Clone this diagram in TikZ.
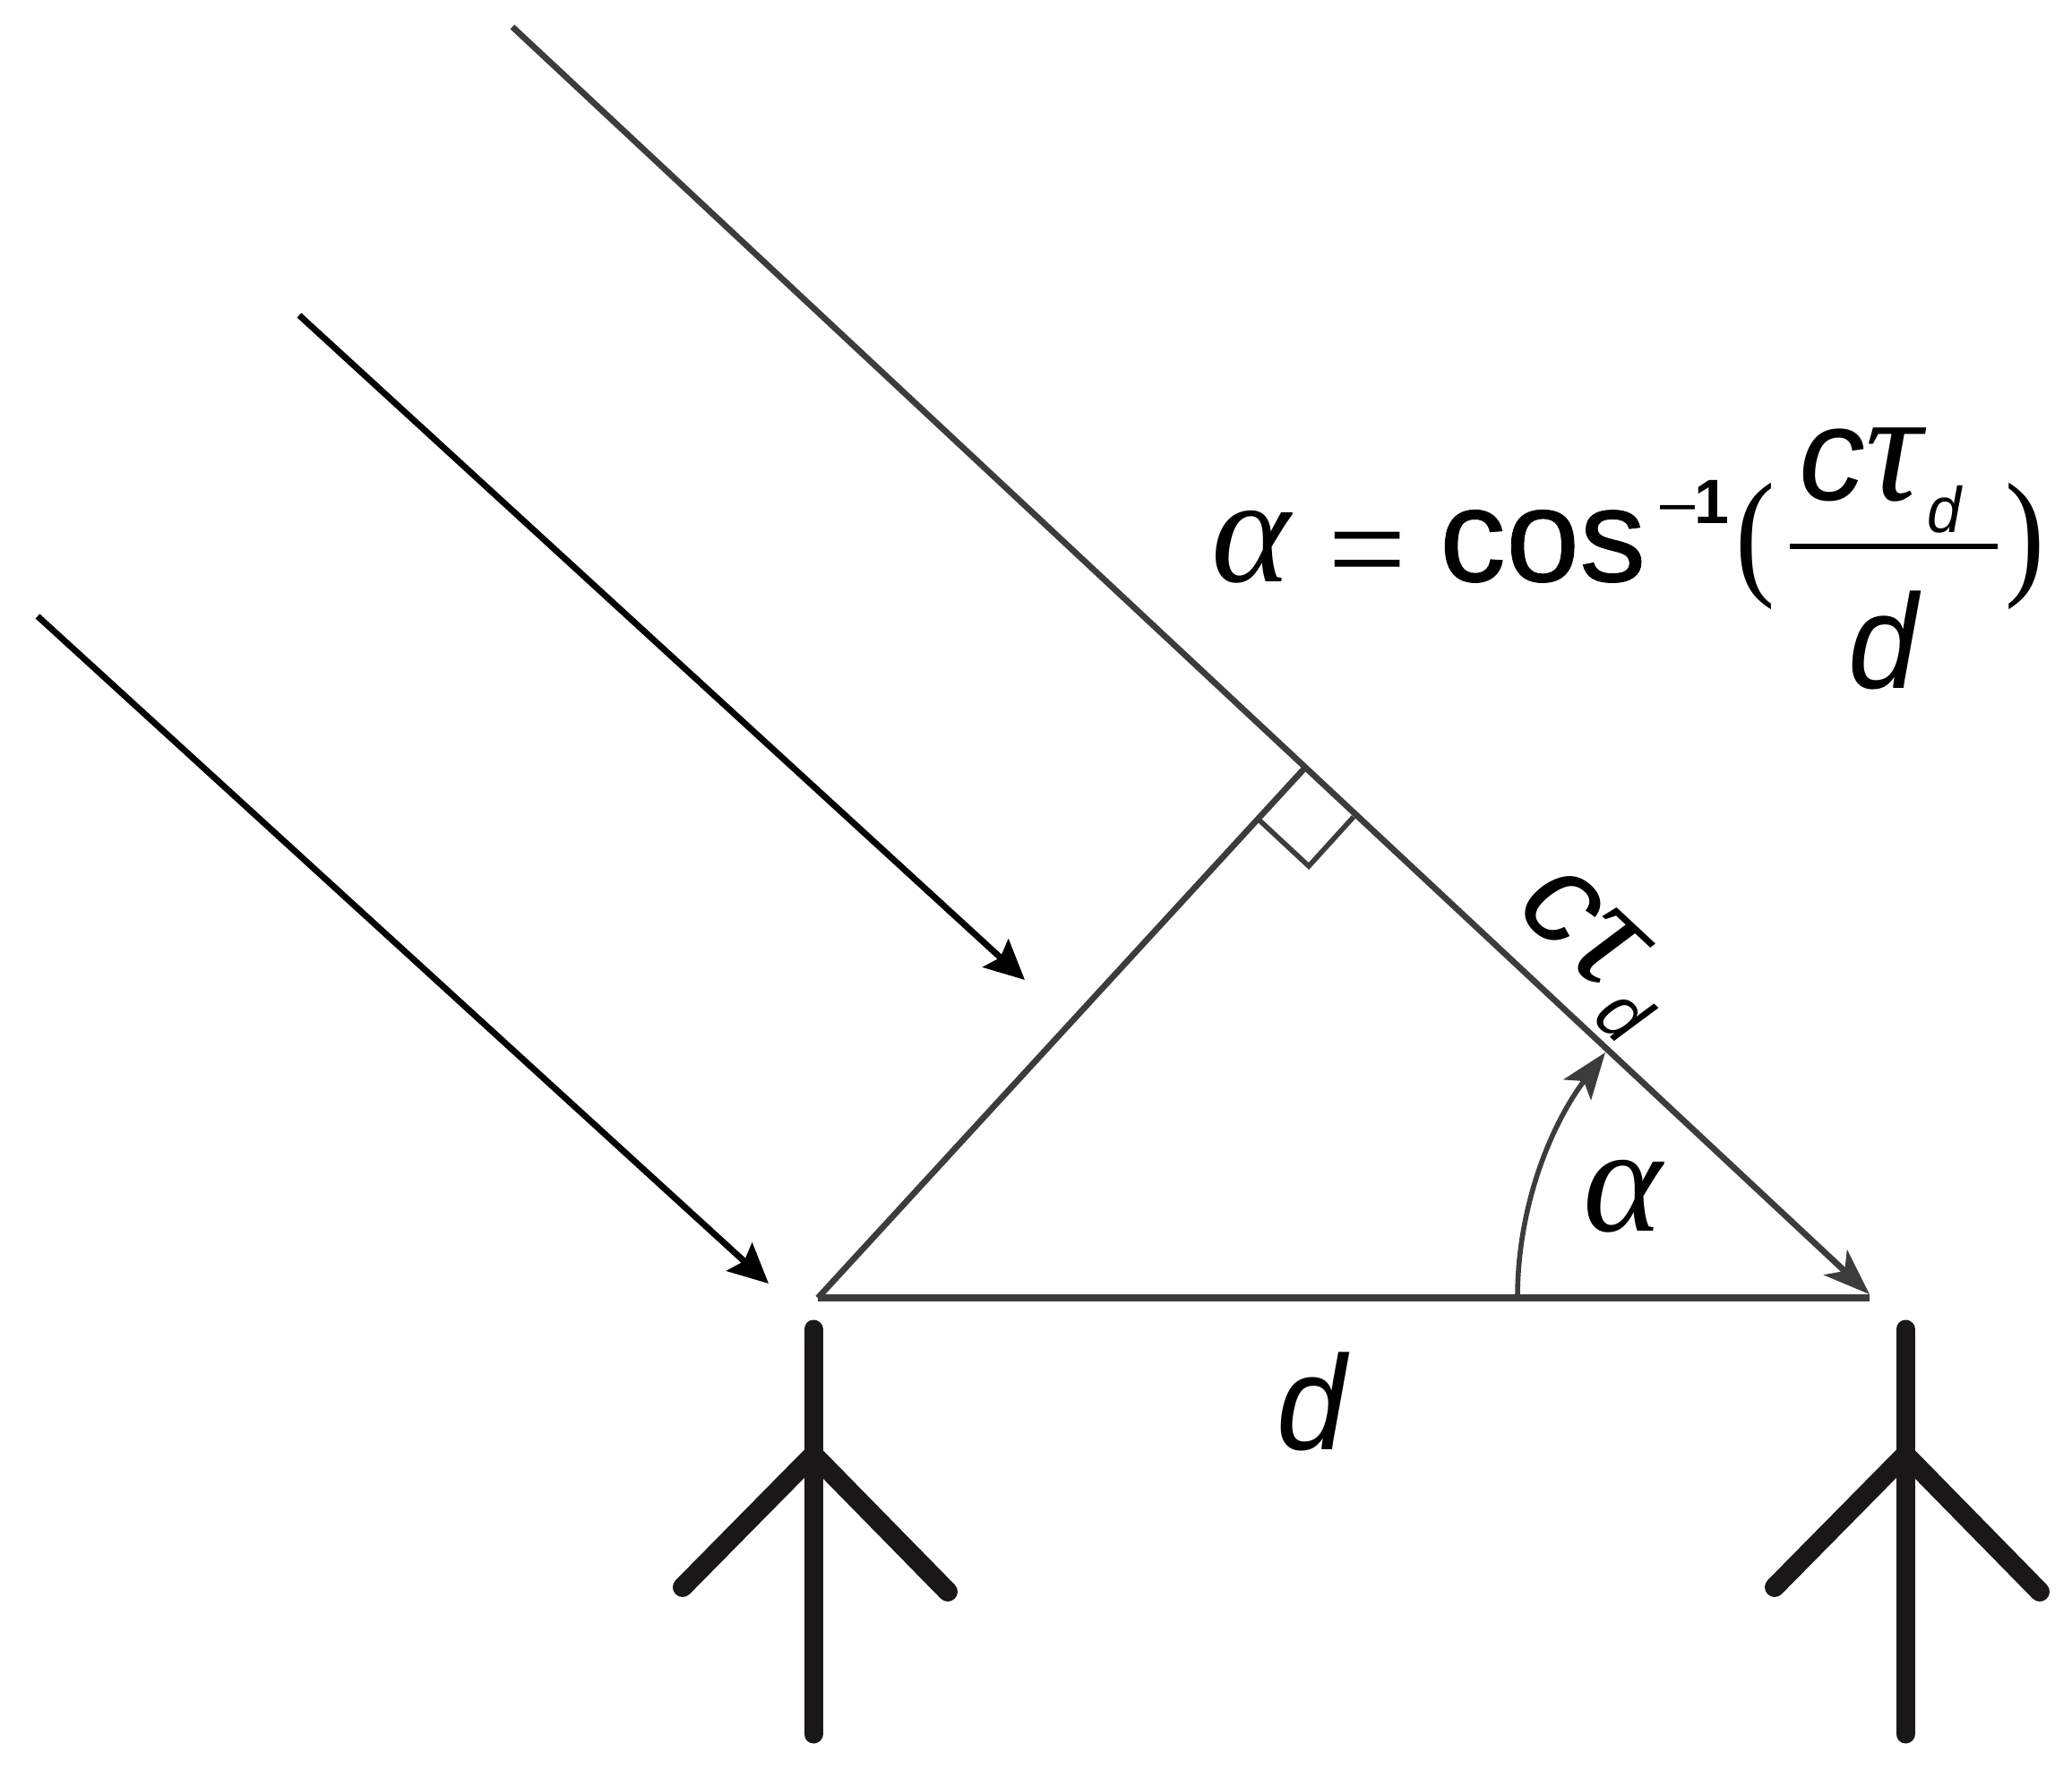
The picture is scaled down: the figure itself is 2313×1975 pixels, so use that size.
\documentclass[tikz,border=0pt]{standalone}
\usepackage{fontspec}
\usetikzlibrary{arrows.meta}
\setmainfont{Liberation Sans}
\newfontfamily\srf{Liberation Serif}
\newfontfamily\heavy{Liberation Sans}[FakeBold=0.6]
\definecolor{lineg}{HTML}{3C3C3C}
\definecolor{inkk}{HTML}{1A1718}
\newcommand{\fs}[1]{\fontsize{#1}{#1}\selectfont}
\newcommand{\slimd}{\scalebox{0.93}[1]{\itshape\fs{75}d}}
\newcommand{\ctaud}[3]{\itshape\fs{74}c{\srf\fs{88}τ}\kern#1\raisebox{#2}{\scalebox{0.95}[1]{\fs{#3}d}}}
\tikzset{
  x=0.5pt,y=-0.5pt,
  lab/.style={inner sep=0pt,outer sep=0pt,anchor=base},
  labw/.style={inner sep=0pt,outer sep=0pt,anchor=base west},
  graybar/.style={draw=lineg,line width=3.4pt},
  ray/.style={draw=black,line width=3.5pt,-{Stealth[length=22pt,width=21pt,inset=3.5pt]}},
  leg/.style={draw=inkk,line width=10.5pt,line cap=round},
  branch/.style={draw=inkk,line width=11pt,line cap=round},
}
\begin{document}
\begin{tikzpicture}
\useasboundingbox (0,0) rectangle (2313,1975);
\fill[white] (0,0) rectangle (2313,1975);
% geometry
\coordinate (top) at (572,30);
\coordinate (tip) at (2087,1445);
\coordinate (foot) at (1456,858);
\coordinate (bl) at (913,1449);
\coordinate (br) at (2087,1449);
\coordinate (r1s) at (334,352);
\coordinate (r1e) at (1144,1094);
\coordinate (r2s) at (42,688);
\coordinate (r2e) at (858,1433);
\coordinate (sq1) at (1404,914);
\coordinate (sq2) at (1461,967);
\coordinate (sq3) at (1511,912);
\coordinate (ars) at (1694,1449);
\coordinate (are) at (1792,1175);
% lines
\draw[draw=lineg,line width=3.4pt,-{Stealth[length=26pt,width=19pt,inset=7pt]}] (top) -- (tip);
\draw[ray] (r1s) -- (r1e);
\draw[ray] (r2s) -- (r2e);
\draw[draw=lineg,line width=4.2pt] (br) -- (bl);
\draw[graybar,line join=round] (bl) -- (foot);
\draw[draw=lineg,line width=2.8pt] (sq1) -- (sq2) -- (sq3);
\draw[draw=lineg,line width=2.8pt,-{Stealth[length=26pt,width=19pt,inset=6pt]}] (ars) .. controls (1694,1345) and (1732,1255) .. (are);
% antennas
\foreach \n/\cx in {a/908,b/2127}{
  \coordinate (\n top) at (\cx,1484);
  \coordinate (\n mid) at (\cx,1624);
  \coordinate (\n bot) at (\cx,1936);
  \coordinate (\n l) at (\cx-146,1772);
  \coordinate (\n r) at (\cx+150,1777);
  \draw[leg] (\n top) -- (\n bot);
  \draw[branch,line join=round] (\n l) -- (\n mid) -- (\n r);
}
% formula
\node[labw] (falpha) at (1352,649) {\srf\itshape\fs{84}α};
\node[lab] (feq) at (1526,665) {\srf\fs{78}=};
\node[labw] (fcos) at (1607,649) {\heavy\fs{74}cos};
\node[labw] (fexp) at (1853,584) {\fs{35}–\textbf{1}};
\node[lab] (flp) at (1960,647) {\srf\scalebox{0.85}[1]{\fs{78}(}};
\node[labw] (fnum) at (2008,558) {\ctaud{3pt}{-18pt}{36}};
\draw[draw=black,line width=3pt] (1998,610) -- (2230,610);
\node[lab] (fden) at (2102,768) {\slimd};
\node[lab] (frp) at (2261,647) {\srf\scalebox{0.85}[1]{\fs{78})}};
% labels
\node[labw,rotate=-43] (ctd) at (1689,1016) {\ctaud{5pt}{-15pt}{42}};
\node[lab] (lalpha) at (1812,1374) {\srf\itshape\fs{84}α};
\node[lab] (ld) at (1464,1618) {\slimd};
\end{tikzpicture}
\end{document}
